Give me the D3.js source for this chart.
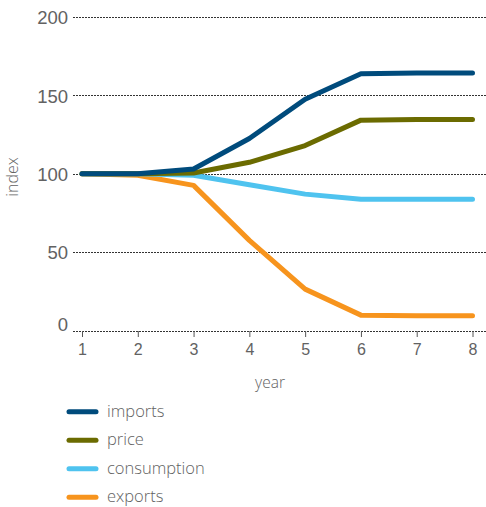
<!DOCTYPE html>
<html>
<head>
<meta charset="utf-8">
<script src="https://cdn.jsdelivr.net/npm/d3@7"></script>
<style>
  html, body { margin: 0; padding: 0; background: #fff; }
  svg { display: block; font-family: "Open Sans", "Noto Sans", sans-serif; }
</style>
</head>
<body>
<svg id="chart" width="486" height="507"></svg>
<script>
// Index values per year (year 1 = 100)
const years = [1, 2, 3, 4, 5, 6, 7, 8];
const imports = [100, 100, 103, 122.5, 147.5, 163.8, 164.2, 164.2];
const price = [100, 100, 100.5, 107.3, 118, 134.2, 134.6, 134.6];
const consumption = [100, 100, 99, 93, 87, 83.7, 83.7, 83.7];
const exports = [100, 99, 92.6, 57.5, 26.4, 9.8, 9.4, 9.4];
const yTicks = [0, 50, 100, 150, 200];

const seriesNames = ["imports", "price", "consumption", "exports"];
const seriesValues = [imports, price, consumption, exports];
const colors = ["#004b7c", "#6b6b00", "#4fc3ef", "#f7941d"];

const textColor = "#626262";

const svg = d3.select("#chart");

const x = d3.scaleLinear().domain([1, 8]).range([82, 472.5]);
const y = d3.scaleLinear().domain([0, 200]).range([330.5, 17]);

// Horizontal dotted gridlines with value labels
const yAxis = d3.axisLeft(y)
  .tickValues(yTicks)
  .tickSize(0)
  .tickPadding(0)
  .tickFormat(d3.format("d"));

const gy = svg.append("g").attr("transform", "translate(68,0)").call(yAxis);
gy.select(".domain").remove();
gy.selectAll("text")
  .attr("x", 0)
  .attr("fill", textColor)
  .attr("font-size", 18.5)
  .attr("font-weight", 300)
  .attr("dy", d => d === 0 ? "0em" : "0.36em");

svg.append("g")
  .selectAll("line")
  .data(yTicks)
  .join("line")
  .attr("x1", 73)
  .attr("x2", 486)
  .attr("y1", d => Math.round(y(d)) + 0.5)
  .attr("y2", d => Math.round(y(d)) + 0.5)
  .attr("stroke", "#333")
  .attr("stroke-width", 1)
  .attr("stroke-dasharray", "2,1");

// Year axis along the bottom
const xAxis = d3.axisBottom(x)
  .tickValues(years)
  .tickSize(6)
  .tickPadding(7)
  .tickFormat(d3.format("d"));

const gx = svg.append("g").attr("transform", "translate(0,331)").call(xAxis);
gx.select(".domain").remove();
gx.selectAll(".tick line").attr("stroke", "#555").attr("stroke-width", 1);
gx.selectAll("text")
  .attr("fill", textColor)
  .attr("font-size", 16)
  .attr("font-weight", 300);

// Axis titles
svg.append("text")
  .attr("x", 270)
  .attr("y", 388)
  .attr("text-anchor", "middle")
  .attr("fill", textColor)
  .attr("font-size", 15.5)
  .attr("font-weight", 300)
  .text("year");

svg.append("text")
  .attr("transform", "translate(18,177) rotate(-90)")
  .attr("text-anchor", "middle")
  .attr("fill", textColor)
  .attr("font-size", 16)
  .attr("font-weight", 300)
  .text("index");

// Series lines
const line = d3.line()
  .x((d, i) => x(years[i]))
  .y(d => y(d));

// draw bottom-up so imports ends on top
const order = [3, 2, 1, 0];
svg.append("g")
  .selectAll("path")
  .data(order)
  .join("path")
  .attr("d", i => line(seriesValues[i]))
  .attr("fill", "none")
  .attr("stroke", i => colors[i])
  .attr("stroke-width", 5)
  .attr("stroke-linecap", "round")
  .attr("stroke-linejoin", "round");

// Legend
const legend = svg.append("g")
  .selectAll("g")
  .data(seriesNames)
  .join("g")
  .attr("transform", (d, i) => `translate(0,${411.7 + i * 28.5})`);

legend.append("line")
  .attr("x1", 69)
  .attr("x2", 96)
  .attr("y1", 0)
  .attr("y2", 0)
  .attr("stroke", (d, i) => colors[i])
  .attr("stroke-width", 5)
  .attr("stroke-linecap", "round");

legend.append("text")
  .attr("x", 107)
  .attr("y", 0)
  .attr("dy", "0.3em")
  .attr("fill", textColor)
  .attr("font-size", 16.5)
  .attr("font-weight", 300)
  .text(d => d);
</script>
</body>
</html>
